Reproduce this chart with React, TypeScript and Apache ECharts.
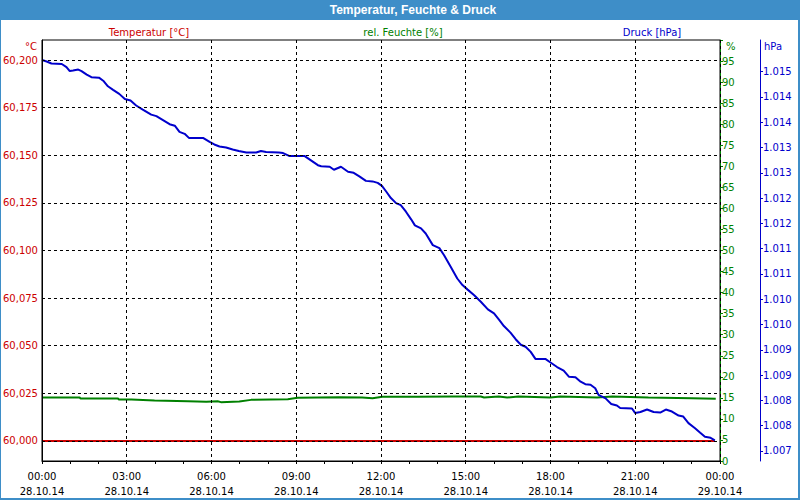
import React, { useEffect, useRef } from "react";
import * as echarts from "echarts";

// ---- data ----
const xTickLabels: string[] = [
  "00:00\n28.10.14", "03:00\n28.10.14", "06:00\n28.10.14", "09:00\n28.10.14",
  "12:00\n28.10.14", "15:00\n28.10.14", "18:00\n28.10.14", "21:00\n28.10.14",
  "00:00\n29.10.14",
];
const tempTicks: number[] = [60.0, 60.025, 60.05, 60.075, 60.1, 60.125, 60.15, 60.175, 60.2];
const humidityTicksMax = 95;
const pressureTicks: number[] = [
  1007.3, 1007.8, 1008.3, 1008.8, 1009.3, 1009.8, 1010.3, 1010.8,
  1011.3, 1011.8, 1012.3, 1012.8, 1013.3, 1013.8, 1014.3, 1014.8,
];

const temperature: [string, number][] = [
  ["00:00", 60.0], ["02:00", 60.0], ["04:00", 60.0], ["06:00", 60.0], ["08:00", 60.0],
  ["10:00", 60.0], ["12:00", 60.0], ["14:00", 60.0], ["16:00", 60.0], ["18:00", 60.0],
  ["20:00", 60.0], ["22:00", 60.0], ["23:49", 60.0],
];

const humidity: [string, number][] = [
  ["00:00", 15.07], ["01:20", 15.07], ["01:22", 14.83], ["02:42", 14.83], ["02:43", 14.6],
  ["03:10", 14.6], ["03:59", 14.36], ["05:10", 14.21], ["05:49", 14.05], ["06:13", 14.21],
  ["06:20", 13.98], ["06:59", 14.12], ["07:24", 14.52], ["08:42", 14.69], ["09:03", 15.0],
  ["10:31", 15.17], ["11:20", 15.07], ["11:42", 14.93], ["12:03", 15.24], ["13:20", 15.24],
  ["14:30", 15.31], ["15:32", 15.31], ["15:39", 15.07], ["16:10", 15.31], ["16:28", 15.07],
  ["16:52", 15.31], ["18:00", 15.07], ["18:21", 15.31], ["19:39", 15.07], ["20:11", 15.31],
  ["21:28", 15.07], ["23:00", 14.9], ["23:51", 14.8],
];

const pressure: [string, number][] = [
  ["00:00", 1015.03], ["00:10", 1015.0], ["00:20", 1014.96], ["00:42", 1014.95], ["00:52", 1014.89],
  ["00:59", 1014.81], ["01:06", 1014.82], ["01:17", 1014.84], ["01:24", 1014.81], ["01:35", 1014.74],
  ["01:45", 1014.69], ["02:01", 1014.68], ["02:10", 1014.62], ["02:20", 1014.51], ["02:31", 1014.44],
  ["02:44", 1014.36], ["02:56", 1014.26], ["03:08", 1014.23], ["03:20", 1014.13], ["03:34", 1014.05],
  ["03:52", 1013.95], ["04:03", 1013.92], ["04:17", 1013.84], ["04:31", 1013.76], ["04:42", 1013.73],
  ["04:52", 1013.61], ["05:03", 1013.57], ["05:12", 1013.49], ["05:42", 1013.49], ["05:56", 1013.41],
  ["06:06", 1013.36], ["06:17", 1013.32], ["06:31", 1013.3], ["06:45", 1013.26], ["06:58", 1013.23],
  ["07:14", 1013.2], ["07:35", 1013.2], ["07:45", 1013.23], ["07:56", 1013.21], ["08:23", 1013.2],
  ["08:32", 1013.19], ["08:46", 1013.13], ["09:18", 1013.13], ["09:32", 1013.04], ["09:46", 1012.95],
  ["09:53", 1012.93], ["10:11", 1012.92], ["10:20", 1012.86], ["10:35", 1012.92], ["10:50", 1012.82],
  ["11:02", 1012.8], ["11:14", 1012.73], ["11:28", 1012.64], ["11:42", 1012.63], ["11:53", 1012.6],
  ["12:02", 1012.54], ["12:11", 1012.43], ["12:21", 1012.3], ["12:32", 1012.2], ["12:42", 1012.16],
  ["12:53", 1012.03], ["13:04", 1011.88], ["13:12", 1011.76], ["13:25", 1011.7], ["13:35", 1011.6],
  ["13:50", 1011.37], ["14:04", 1011.31], ["14:14", 1011.17], ["14:28", 1010.94], ["14:42", 1010.71],
  ["14:53", 1010.58], ["15:04", 1010.49], ["15:18", 1010.38], ["15:32", 1010.25], ["15:47", 1010.1],
  ["16:00", 1010.02], ["16:11", 1009.89], ["16:21", 1009.77], ["16:35", 1009.64], ["16:46", 1009.51],
  ["16:57", 1009.4], ["17:07", 1009.36], ["17:18", 1009.26], ["17:28", 1009.12], ["17:49", 1009.12],
  ["18:00", 1009.05], ["18:14", 1008.96], ["18:28", 1008.89], ["18:39", 1008.77], ["18:53", 1008.76],
  ["19:04", 1008.67], ["19:14", 1008.62], ["19:25", 1008.61], ["19:35", 1008.54], ["19:42", 1008.41],
  ["19:57", 1008.34], ["20:09", 1008.23], ["20:21", 1008.2], ["20:28", 1008.15], ["20:53", 1008.14],
  ["21:00", 1008.05], ["21:11", 1008.07], ["21:25", 1008.12], ["21:39", 1008.07], ["21:53", 1008.06],
  ["22:05", 1008.12], ["22:18", 1008.08], ["22:32", 1008.0], ["22:42", 1007.98], ["22:53", 1007.85],
  ["23:07", 1007.75], ["23:18", 1007.66], ["23:28", 1007.58], ["23:40", 1007.56], ["23:49", 1007.51],
];

const RED = "#cc0000";
const GREEN = "#008000";
const BLUE = "#0000cc";
const FONT = "DejaVu Sans";

const toMin = (s: string) => {
  const [h, m] = s.split(":").map(Number);
  return h * 60 + m;
};
const toSeries = (arr: [string, number][]) => arr.map(([t, v]) => [toMin(t), v]);

export default function App() {
  const ref = useRef<HTMLDivElement>(null);
  useEffect(() => {
    if (!ref.current) return;
    const chart = echarts.init(ref.current, undefined, { renderer: "svg" });
    const dashed = { color: "#000", width: 1, type: [3, 3] as number[] };
    chart.setOption({
      animation: false,
      backgroundColor: "#ffffff",
      textStyle: { fontFamily: FONT },
      grid: {
        left: 40, right: 80, top: 40, bottom: 39,
        show: true, borderColor: "#000", borderWidth: 1, backgroundColor: "#fff",
        containLabel: false,
      },
      graphic: [
        { type: "rect", shape: { x: 0, y: 0, width: 800, height: 20 }, style: { fill: "#3e8ec8" }, silent: true },
        { type: "rect", shape: { x: 0, y: 0, width: 1, height: 500 }, style: { fill: "#3e8ec8" }, silent: true },
        { type: "rect", shape: { x: 798, y: 0, width: 2, height: 500 }, style: { fill: "#3e8ec8" }, silent: true },
        { type: "rect", shape: { x: 0, y: 498, width: 800, height: 2 }, style: { fill: "#3e8ec8" }, silent: true },
        {
          type: "text", x: 413, y: 10,
          style: { text: "Temperatur, Feuchte & Druck", fill: "#fff", font: "bold 12px 'Liberation Sans'", align: "center", verticalAlign: "middle" },
        },
        { type: "text", x: 149, y: 32, style: { text: "Temperatur [°C]", fill: RED, font: `10px '${FONT}'`, align: "center", verticalAlign: "middle" } },
        { type: "text", x: 403, y: 32, style: { text: "rel. Feuchte [%]", fill: GREEN, font: `10px '${FONT}'`, align: "center", verticalAlign: "middle" } },
        { type: "text", x: 652, y: 32, style: { text: "Druck [hPa]", fill: BLUE, font: `10px '${FONT}'`, align: "center", verticalAlign: "middle" } },
        { type: "text", x: 37, y: 46, style: { text: "°C", fill: RED, font: `10px '${FONT}'`, align: "right", verticalAlign: "middle" } },
        { type: "text", x: 726, y: 46, style: { text: "%", fill: GREEN, font: `10px '${FONT}'`, align: "left", verticalAlign: "middle" } },
        { type: "text", x: 764, y: 46, style: { text: "hPa", fill: BLUE, font: `10px '${FONT}'`, align: "left", verticalAlign: "middle" } },
      ],
      xAxis: {
        type: "value", min: 0, max: 1440, interval: 180, z: 3,
        axisLine: { show: true, lineStyle: { color: "#000", width: 1 } },
        axisTick: { show: true, length: 3, lineStyle: { color: "#000" } },
        minorTick: { show: true, splitNumber: 3, length: 3, lineStyle: { color: "#000" } },
        axisLabel: {
          formatter: (v: number) => xTickLabels[Math.round(v / 180)] ?? "",
          color: "#000", fontSize: 10, fontFamily: FONT, lineHeight: 15, margin: 8,
        },
        splitLine: { show: true, lineStyle: dashed },
      },
      yAxis: [
        {
          type: "value", position: "left", min: 59.9895, max: 60.2105, z: 3,
          axisLine: { show: true, lineStyle: { color: "#000", width: 1 } },
          axisTick: { show: false, customValues: tempTicks },
          axisLabel: {
            customValues: tempTicks,
            formatter: (v: number) => v.toFixed(3).replace(".", ","),
            color: RED, fontSize: 10, fontFamily: FONT, margin: 4,
          },
          splitLine: { show: true, lineStyle: dashed },
        },
        {
          type: "value", position: "right", min: 0, max: 100, interval: 5,
          axisLine: { show: true, lineStyle: { color: GREEN, width: 1 } },
          axisTick: { show: true, length: 3, lineStyle: { color: GREEN } },
          axisLabel: {
            formatter: (v: number) => (v > humidityTicksMax ? "" : String(v)),
            color: GREEN, fontSize: 10, fontFamily: FONT, margin: 2,
          },
          splitLine: { show: false },
        },
        {
          type: "value", position: "right", offset: 40, min: 1007.102, max: 1015.425,
          axisLine: { show: true, lineStyle: { color: BLUE, width: 1 } },
          axisTick: { show: true, length: 3, lineStyle: { color: BLUE }, customValues: pressureTicks },
          axisLabel: {
            customValues: pressureTicks,
            formatter: (v: number) => {
              const r = Math.round(v);
              return `${Math.floor(r / 1000)}.${String(r % 1000).padStart(3, "0")}`;
            },
            color: BLUE, fontSize: 10, fontFamily: FONT, margin: 3,
          },
          splitLine: { show: false },
        },
      ],
      series: [
        {
          name: "Temperatur [°C]", type: "line", yAxisIndex: 0, data: toSeries(temperature),
          showSymbol: false, lineStyle: { color: RED, width: 2 }, itemStyle: { color: RED }, z: 1,
        },
        {
          name: "rel. Feuchte [%]", type: "line", yAxisIndex: 1, data: toSeries(humidity),
          showSymbol: false, lineStyle: { color: GREEN, width: 2 }, itemStyle: { color: GREEN }, z: 1,
        },
        {
          name: "Druck [hPa]", type: "line", yAxisIndex: 2, data: toSeries(pressure),
          showSymbol: false, lineStyle: { color: BLUE, width: 2 }, itemStyle: { color: BLUE }, z: 2,
        },
      ],
    });
    return () => chart.dispose();
  }, []);
  return <div ref={ref} style={{ position: "absolute", left: 0, top: 0, width: 800, height: 500 }} />;
}
